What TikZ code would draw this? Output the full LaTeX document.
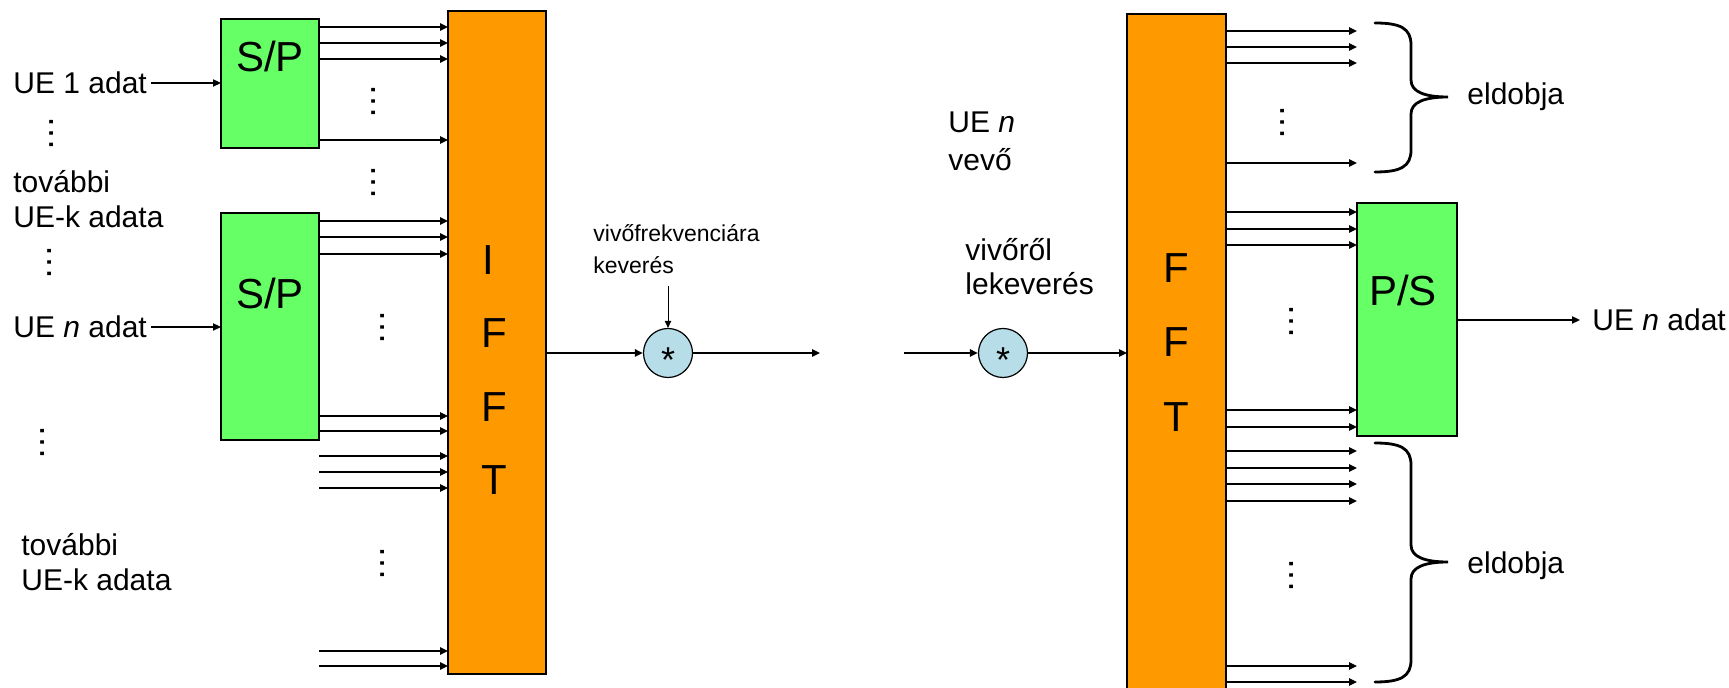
\documentclass[tikz,border=0pt]{standalone}
\usepackage{fontspec}
\setmainfont{Liberation Sans}
\usetikzlibrary{arrows.meta}
\definecolor{spgreen}{RGB}{102,255,102}
\definecolor{fftorange}{RGB}{255,153,0}
\definecolor{mixblue}{RGB}{183,222,232}
\begin{document}
\begin{tikzpicture}[x=0.5pt,y=-0.5pt,
  box/.style={draw=black, line width=1.3pt, inner sep=0pt, outer sep=0pt},
  greenbox/.style={box, fill=spgreen},
  orangebox/.style={box, fill=fftorange},
  lbl/.style={font=\fontsize{15}{17.5}\selectfont, inner sep=0pt, align=left, anchor=west},
  boxtxt/.style={font=\fontsize{21}{25}\selectfont, inner sep=0pt},
  vd/.style={font=\fontsize{18}{18}\selectfont, inner sep=0pt, rotate=90},
  par/.style={line width=1pt, -{Triangle[length=4pt,width=3.6pt]}},
  thinarr/.style={line width=0.75pt, -{Triangle[length=4pt,width=3.6pt]}},
  hair/.style={line width=0.5pt, -{Triangle[length=3.5pt,width=3.2pt]}},
  mix/.style={circle, draw=black, line width=0.6pt, fill=mixblue, minimum size=24.5pt, inner sep=0pt},
  star/.style={font=\fontsize{18}{18}\selectfont, inner sep=0pt, yshift=-3.8pt},
  brc/.style={line width=1.4pt, line cap=round}
]
\clip (0,0) rectangle (1729,688);
\fill[white] (0,0) rectangle (1729,688);

% boxes
\node[greenbox, minimum width=49pt, minimum height=64.5pt] (sp1) at (270,83.5) {};
\node[boxtxt] (sp1t) at (270,56) {S/P};
\node[greenbox, minimum width=49pt, minimum height=113.5pt] (sp2) at (270,326.5) {};
\node[boxtxt] (sp2t) at (270,293) {S/P};
\node[orangebox, minimum width=49pt, minimum height=331.5pt] (ifft) at (497,342.5) {};
\node[boxtxt, align=center, font=\fontsize{21}{36.75}\selectfont] (ifftt) at (494,370) {I\kern0.28em\\F\\F\\T};
\node[orangebox, minimum width=49.5pt, minimum height=353pt] (fft) at (1176.5,367) {};
\node[boxtxt, align=center, font=\fontsize{21}{37.25}\selectfont] (fftt) at (1176,342.5) {F\\F\\T};
\node[greenbox, minimum width=50pt, minimum height=116.5pt] (ps) at (1407,319.5) {};
\node[boxtxt] (pst) at (1403,290) {P/S};

% labels
\node[lbl] (ue1) at (13,83) {UE 1 adat};
\node[lbl] (tov1) at (13,199.5) {további\\UE-k adata};
\node[lbl] (uen) at (13,327) {UE \textit{n} adat};
\node[lbl] (tov2) at (21,562.5) {további\\UE-k adata};
\node[lbl, font=\fontsize{15}{19}\selectfont] (uevevo) at (948,141) {UE \textit{n}\\vevő};
\node[lbl, font=\fontsize{15}{17}\selectfont] (vivorol) at (965,267) {vivőről\\lekeverés};
\node[lbl, font=\fontsize{11.5}{16}\selectfont] (vivofr) at (593,249) {vivőfrekvenciára\\keverés};
\node[lbl] (eld1) at (1467,97) {eldobja};
\node[lbl] (eld2) at (1467,566) {eldobja};
\node[lbl] (uenout) at (1592,320) {UE \textit{n} adat};

% mixers
\node[mix] (m1) at (668,353) {};
\node[star] (m1s) at (m1) {*};
\node[mix] (m2) at (1003,353) {};
\node[star] (m2s) at (m2) {*};
\coordinate (mixin) at (668,286);
\coordinate (txout) at (820,353);
\coordinate (rxin) at (904,353);

% input arrows
\draw[thinarr, shorten <=2pt] (ue1.east) -- (ue1.east -| sp1.west);
\draw[thinarr, shorten <=2pt] (uen.east) -- (uen.east -| sp2.west);

% parallel arrows into IFFT
\foreach \y in {27,43,59,140} \draw[par] (sp1.east |- 0,\y) -- (ifft.west |- 0,\y);
\foreach \y in {221,237,254,416,431,456,472,488,651,666} \draw[par] (sp2.east |- 0,\y) -- (ifft.west |- 0,\y);

% mixing chain
\draw[par] (ifft.east |- m1) -- (m1.west);
\draw[hair] (mixin) -- (m1.north);
\draw[par] (m1.east) -- (txout);
\draw[par] (rxin) -- (m2.west);
\draw[par] (m2.east) -- (fft.west |- m2);

% FFT outputs
\foreach \y in {31,47,63,163,212,229,245,410,427,451,468,484,501,666,682} \draw[par] (fft.east |- 0,\y) -- (ps.west |- 0,\y);
\draw[thinarr, shorten >=6pt] (ps.east |- uenout) -- (uenout.west);

% vertical dots
\node[vd] (d1) at (52,134) {…};
\node[vd] (d2) at (50,263) {…};
\node[vd] (d3) at (43,443) {…};
\node[vd] (d4) at (374,102) {…};
\node[vd] (d5) at (374,183) {…};
\node[vd] (d6) at (383,328) {…};
\node[vd] (d7) at (383,564) {…};
\node[vd] (d8) at (1283,123) {…};
\node[vd] (d9) at (1292,322) {…};
\node[vd] (d10) at (1292,576) {…};

% braces
\draw[brc] (1375,23) .. controls (1400,23) and (1411,28) .. (1411,45) -- (1411,80)
  .. controls (1411,92) and (1425,97) .. (1448,97)
  .. controls (1425,97) and (1411,102) .. (1411,114) -- (1411,150)
  .. controls (1411,167) and (1400,172) .. (1375,172);
\draw[brc] (1375,443) .. controls (1400,443) and (1411,448) .. (1411,465) -- (1411,545)
  .. controls (1411,557) and (1425,562) .. (1448,562)
  .. controls (1425,562) and (1411,567) .. (1411,579) -- (1411,660)
  .. controls (1411,677) and (1400,682) .. (1375,682);
\end{tikzpicture}
\end{document}
